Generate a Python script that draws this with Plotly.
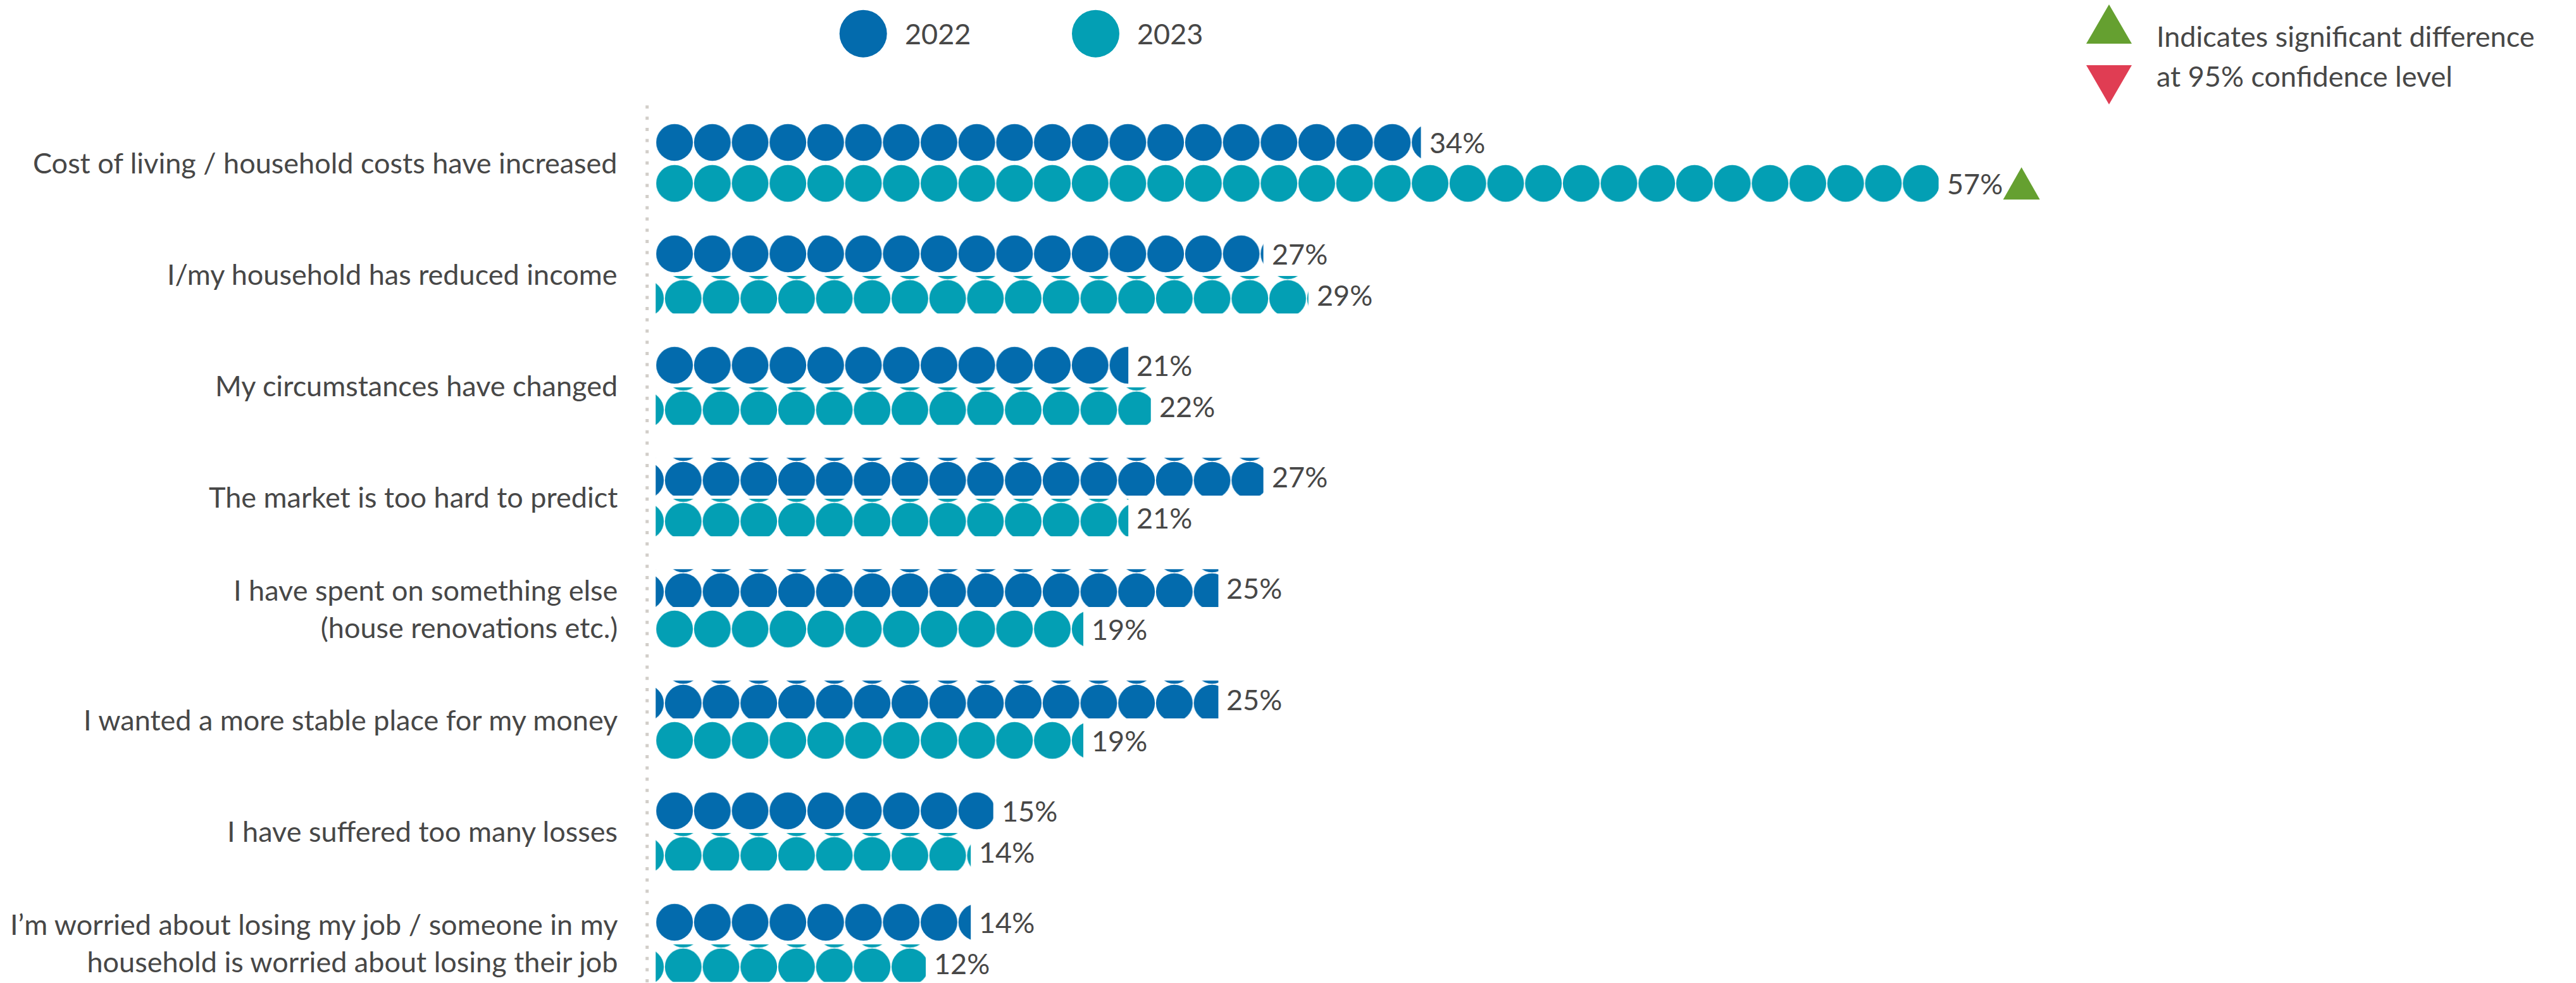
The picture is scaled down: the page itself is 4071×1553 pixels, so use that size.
import plotly.graph_objects as go

# ---- data -------------------------------------------------------------
categories = [
    "Cost of living / household costs have increased",
    "I/my household has reduced income",
    "My circumstances have changed",
    "The market is too hard to predict",
    "I have spent on something else<br>(house renovations etc.)",
    "I wanted a more stable place for my money",
    "I have suffered too many losses",
    "I’m worried about losing my job / someone in my<br>household is worried about losing their job",
]
years = ["2022", "2023"]
values_2022 = [34, 27, 21, 27, 25, 25, 15, 14]
values_2023 = [57, 29, 22, 21, 19, 19, 14, 12]
significance_2023 = ["up", None, None, None, None, None, None, None]
legend_note = ["Indicates significant difference", "at 95% confidence level"]

series = {"2022": values_2022, "2023": values_2023}
signif = {"2022": [None] * len(values_2022), "2023": significance_2023}

# ---- styling ----------------------------------------------------------
W, H = 4071, 1553
COLORS = {"2022": "#036BAD", "2023": "#039FB4"}
UP_GREEN = "#65A030"
DOWN_RED = "#E03D53"
TEXT = "#474747"
FONT = "Lato"
FS = 45

PX_PER_PCT = 35.57      # horizontal scale of the value axis
BAR_X0 = 1036.2         # pixel where every bar starts
BAR_H = 59.7            # bar thickness
TILE = 59.7             # dot pattern cell
ROW_TOP0 = 195.2
CAT_PITCH = 176.0
PAIR_OFFSET = 64.7
PLOT_RIGHT = 3350.0
# phase of the dot grid inside each bar (0 = aligned, 1 = shifted)
PHASE = {"2022": [0, 0, 0, 1, 1, 1, 0, 0], "2023": [0, 1, 1, 1, 0, 0, 1, 1]}
SHIFT = (13.7, 5.85)


def px_x(p):
    return p / W


def px_y(p):
    return 1 - p / H


fig = go.Figure()
layout_axes = {}
annotations = []
shapes = []

k = 0
for i, cat in enumerate(categories):
    for j, yr in enumerate(years):
        k += 1
        xname = "x" if k == 1 else f"x{k}"
        yname = "y" if k == 1 else f"y{k}"
        xkey = "xaxis" if k == 1 else f"xaxis{k}"
        ykey = "yaxis" if k == 1 else f"yaxis{k}"

        top_bar = ROW_TOP0 + CAT_PITCH * i + PAIR_OFFSET * j
        bottom = top_bar + BAR_H
        if PHASE[yr][i]:
            left = BAR_X0 + SHIFT[0] - TILE
            top = top_bar + SHIFT[1] - TILE
        else:
            left = BAR_X0
            top = top_bar

        layout_axes[xkey] = dict(
            domain=[px_x(left), px_x(PLOT_RIGHT)],
            range=[(left - BAR_X0) / PX_PER_PCT, (PLOT_RIGHT - BAR_X0) / PX_PER_PCT],
            visible=False, fixedrange=True, anchor=yname,
        )
        layout_axes[ykey] = dict(
            domain=[px_y(bottom), px_y(top)],
            range=[-0.5, -0.5 + (bottom - top) / BAR_H],
            visible=False, fixedrange=True, anchor=xname,
        )

        v = series[yr][i]
        c = COLORS[yr]
        fig.add_trace(go.Bar(
            x=[v], y=[0], orientation="h", width=1,
            xaxis=xname, yaxis=yname,
            marker=dict(
                color=c, line=dict(width=0),
                pattern=dict(shape=".", size=TILE, solidity=0.7413,
                             fgcolor=c, bgcolor="rgba(0,0,0,0)",
                             fillmode="overlay", fgopacity=1),
            ),
            showlegend=False, hoverinfo="skip", name=yr,
        ))

        annotations.append(dict(
            x=v, y=0, xref=xname, yref=yname, text=f"{v}%",
            xanchor="left", yanchor="middle", xshift=11, showarrow=False,
            font=dict(family=FONT, size=FS, color=TEXT),
        ))

        s = signif[yr][i]
        if s:
            path = ("M102,-25.5 L160,-25.5 L131,25.5 Z" if s == "up"
                    else "M102,25.5 L160,25.5 L131,-25.5 Z")
            shapes.append(dict(
                type="path", xref=xname, yref=yname,
                xsizemode="pixel", ysizemode="pixel", xanchor=v, yanchor=0,
                path=path, fillcolor=UP_GREEN if s == "up" else DOWN_RED,
                line=dict(width=0),
            ))

    # category label, centred on the pair of bars
    centre = ROW_TOP0 + CAT_PITCH * i + (PAIR_OFFSET + BAR_H) / 2
    annotations.append(dict(
        x=px_x(978), y=px_y(centre), xref="paper", yref="paper", text=cat,
        xanchor="right", yanchor="middle", align="right", showarrow=False,
        font=dict(family=FONT, size=FS, color=TEXT),
    ))

# dotted baseline
shapes.append(dict(
    type="line", xref="paper", yref="paper",
    x0=px_x(1022.7), x1=px_x(1022.7), y0=px_y(166.5), y1=0,
    line=dict(color="#d2cec9", width=5, dash="5px,12.7px"),
))

# year legend
for yr, cx, tx in [("2022", 1364.2, 1428), ("2023", 1731.5, 1795)]:
    shapes.append(dict(
        type="circle", xref="paper", yref="paper",
        x0=px_x(cx - 37.5), x1=px_x(cx + 37.5), y0=px_y(90.7), y1=px_y(15.7),
        fillcolor=COLORS[yr], line=dict(width=0),
    ))
    annotations.append(dict(
        x=px_x(tx), y=px_y(53), xref="paper", yref="paper", text=yr,
        xanchor="left", yanchor="middle", showarrow=False,
        font=dict(family=FONT, size=FS, color=TEXT),
    ))

# significance key
shapes.append(dict(
    type="path", xref="paper", yref="paper",
    path=f"M{px_x(3297)},{px_y(69)} L{px_x(3369)},{px_y(69)} L{px_x(3333)},{px_y(7)} Z",
    fillcolor=UP_GREEN, line=dict(width=0),
))
shapes.append(dict(
    type="path", xref="paper", yref="paper",
    path=f"M{px_x(3297)},{px_y(103)} L{px_x(3369)},{px_y(103)} L{px_x(3333)},{px_y(165)} Z",
    fillcolor=DOWN_RED, line=dict(width=0),
))
for line_text, cy in zip(legend_note, [57, 120]):
    annotations.append(dict(
        x=px_x(3406), y=px_y(cy), xref="paper", yref="paper", text=line_text,
        xanchor="left", yanchor="middle", showarrow=False,
        font=dict(family=FONT, size=FS, color=TEXT),
    ))

fig.update_layout(
    width=W, height=H,
    margin=dict(l=0, r=0, t=0, b=0, pad=0),
    paper_bgcolor="white", plot_bgcolor="rgba(0,0,0,0)",
    barmode="overlay", showlegend=False,
    annotations=annotations, shapes=shapes,
    **layout_axes,
)

fig.write_html("out.html")
